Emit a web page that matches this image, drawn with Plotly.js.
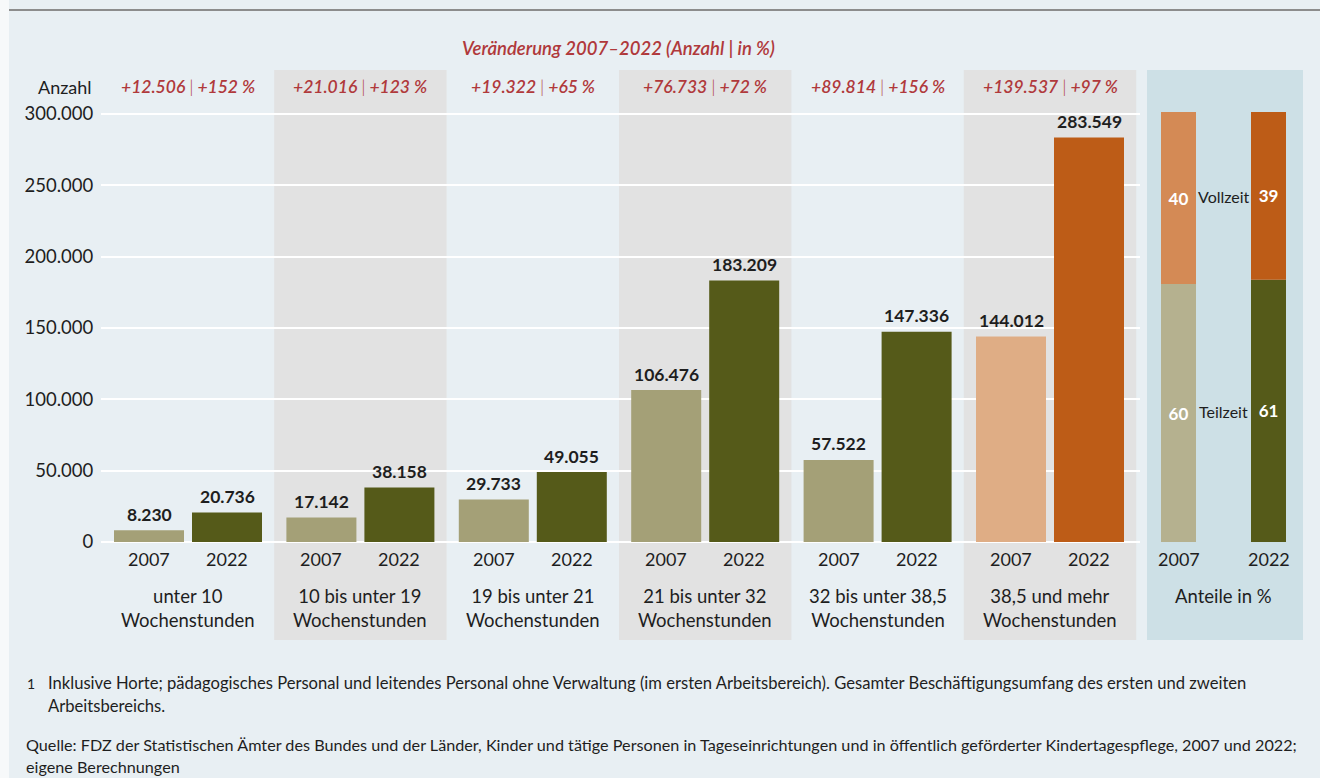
<!DOCTYPE html>
<html><head><meta charset="utf-8">
<script src="https://cdn.plot.ly/plotly-3.0.1.min.js"></script>
<style>html,body{margin:0;padding:0;background:#e8eff3;}#chart{width:1320px;height:778px;}</style>
</head><body><div id="chart"></div>
<script>
// ---- data ----
const groupLabels = ['unter 10<br>Wochenstunden','10 bis unter 19<br>Wochenstunden','19 bis unter 21<br>Wochenstunden','21 bis unter 32<br>Wochenstunden','32 bis unter 38,5<br>Wochenstunden','38,5 und mehr<br>Wochenstunden'];
const years = ['2007','2022'];
const values2007 = [8230, 17142, 29733, 106476, 57522, 144012];
const values2022 = [20736, 38158, 49055, 183209, 147336, 283549];
const changeAbs = ['+12.506','+21.016','+19.322','+76.733','+89.814','+139.537'];
const changePct = ['+152 %','+123 %','+65 %','+72 %','+156 %','+97 %'];
const shareLabels = ['Teilzeit','Vollzeit'];
const teilzeit = [60, 61];
const vollzeit = [40, 39];
const yTicks = [0, 50000, 100000, 150000, 200000, 250000, 300000];

// ---- layout geometry ----
const W = 1320, H = 778, L = 101, T = 70, B = 640;
const PW = W - L, PH = B - T;
const px = p => (p - L) / PW;
const py = p => (B - p) / PH;
const y0px = 542, yTopPx = 114, yTopVal = 300000;
const k = (y0px - yTopPx) / yTopVal;
const yRange = [-(B - y0px) / k, yTopVal + (yTopPx - T) / k];
const gSp = 172.4, c0 = 188;
const xRange = [(L - c0) / gSp, (1140 - c0) / gSp];
const off = 39 / gSp, bw = 70 / gSp;
const k2 = (y0px - 112) / 100;
const y2Range = [-(B - y0px) / k2, 100 + (112 - T) / k2];
const p0 = 1178.5, pSp = 90;
const x2Range = [(1147 - p0) / pSp, (1303 - p0) / pSp];

const FONT = 'Lato, "Source Sans Pro", sans-serif';
const TXT = '#1e1e1e';
const RED = '#b0393b';
const fmt = n => String(n).replace(/\B(?=(\d{3})+(?!\d))/g, '.');

const lightCol = values2007.map((_, i) => i === 5 ? '#dfad85' : '#a4a077');
const darkCol = values2022.map((_, i) => i === 5 ? '#bd5c17' : '#555a19');

const traces = [
  {type:'bar', x: values2007.map((_, i) => i - off), y: values2007, width: bw,
   marker:{color: lightCol}, hoverinfo:'skip'},
  {type:'bar', x: values2022.map((_, i) => i + off), y: values2022, width: bw,
   marker:{color: darkCol}, hoverinfo:'skip'},
  {type:'bar', x:[0,1], y: teilzeit, width: 35/pSp, xaxis:'x2', yaxis:'y2',
   marker:{color:['#b5b18f','#555a19']}, text: teilzeit.map(String), textposition:'inside',
   insidetextanchor:'middle', textfont:{family:FONT, size:17, color:'#ffffff', weight:700}, hoverinfo:'skip'},
  {type:'bar', x:[0,1], y: vollzeit, base: teilzeit, width: 35/pSp, xaxis:'x2', yaxis:'y2',
   marker:{color:['#d48a55','#bd5c17']}, text: vollzeit.map(String), textposition:'inside',
   insidetextanchor:'middle', textfont:{family:FONT, size:17, color:'#ffffff', weight:700}, hoverinfo:'skip'}
];

const shapes = [
  {type:'rect', xref:'paper', yref:'paper', x0: px(0), x1: px(9), y0: py(H), y1: py(0), fillcolor:'#f7f9fa', line:{width:0}, layer:'below'},
  {type:'line', xref:'paper', yref:'paper', x0: px(9), x1: px(W), y0: py(10), y1: py(10), line:{color:'#8c8c8c', width:2}},
  {type:'rect', xref:'x2 domain', yref:'paper', x0:0, x1:1, y0:0, y1:1, fillcolor:'#cde0e6', line:{width:0}, layer:'below'}
];
[1,3,5].forEach(i => shapes.push({type:'rect', xref:'x', yref:'paper', x0:i-0.5, x1:i+0.5, y0:0, y1:1,
  fillcolor:'#e2e2e2', line:{width:0}, layer:'below'}));

const ann = [];
const A = o => ann.push(Object.assign({showarrow:false, yanchor:'middle', xanchor:'center'}, o));
A({xref:'paper', yref:'paper', x: px(618), y: py(48), text:'Veränderung 2007–2022 (Anzahl | in %)',
  font:{family:FONT, size:18.5, color:RED, style:'italic', weight:600}});
A({xref:'paper', yref:'paper', x: px(94), y: py(87), xanchor:'right', text:'Anzahl',
  font:{family:FONT, size:18, color:TXT}});
groupLabels.forEach((g, i) => {
  A({xref:'x', yref:'paper', x:i, y: py(87), text: changeAbs[i] + ' <span style="font-weight:300">|</span> ' + changePct[i],
    font:{family:FONT, size:17.5, color:RED, style:'italic', weight:600}});
  A({xref:'x', yref:'y', x:i - off, y:values2007[i], yshift:16, text:fmt(values2007[i]), font:{family:FONT, size:17.5, color:TXT, weight:700}});
  A({xref:'x', yref:'y', x:i + off, y:values2022[i], yshift:16, text:fmt(values2022[i]), font:{family:FONT, size:17.5, color:TXT, weight:700}});
  A({xref:'x', yref:'y', x:i - off, y:0, yshift:-17, text:years[0], font:{family:FONT, size:18, color:TXT}});
  A({xref:'x', yref:'y', x:i + off, y:0, yshift:-17, text:years[1], font:{family:FONT, size:18, color:TXT}});
  A({xref:'x', yref:'y', x:i, y:0, yshift:-66, text:g, font:{family:FONT, size:18.5, color:TXT}});
});
years.forEach((yr, j) => A({xref:'x2', yref:'y2', x:j, y:0, yshift:-17, text:yr, font:{family:FONT, size:18, color:TXT}}));
A({xref:'x2', yref:'y2', x:0.5, y:0, yshift:-54, text:'Anteile in %', font:{family:FONT, size:18.5, color:TXT}});
const midT = (teilzeit[0] / 2 + teilzeit[1] / 2) / 2;
const midV = ((teilzeit[0] + vollzeit[0] / 2) + (teilzeit[1] + vollzeit[1] / 2)) / 2;
A({xref:'x2', yref:'y2', x:0.5, y:midT, text:shareLabels[0], font:{family:FONT, size:16, color:TXT}});
A({xref:'x2', yref:'y2', x:0.5, y:midV, text:shareLabels[1], font:{family:FONT, size:16, color:TXT}});

const FN1 = {family:FONT, size:16.6, color:TXT};
const FN2 = {family:FONT, size:16.2, color:TXT};
A({xref:'paper', yref:'paper', x: px(25), y: py(683), xanchor:'left', text:'1', font:{family:FONT, size:14, color:TXT}});
A({xref:'paper', yref:'paper', x: px(46), y: py(683), xanchor:'left', text:'Inklusive Horte; pädagogisches Personal und leitendes Personal ohne Verwaltung (im ersten Arbeitsbereich). Gesamter Beschäftigungsumfang des ersten und zweiten', font:FN1});
A({xref:'paper', yref:'paper', x: px(46), y: py(706), xanchor:'left', text:'Arbeitsbereichs.', font:FN1});
A({xref:'paper', yref:'paper', x: px(24), y: py(744), xanchor:'left', text:'Quelle: FDZ der Statistischen Ämter des Bundes und der Länder, Kinder und tätige Personen in Tageseinrichtungen und in öffentlich geförderter Kindertagespflege, 2007 und 2022;', font:FN2});
A({xref:'paper', yref:'paper', x: px(24), y: py(766), xanchor:'left', text:'eigene Berechnungen', font:FN2});

const layout = {
  width: W, height: H,
  margin:{l:L, r:0, t:T, b:H - B, pad:0},
  paper_bgcolor:'#e8eff3', plot_bgcolor:'rgba(0,0,0,0)',
  barmode:'overlay', showlegend:false,
  font:{family:FONT, color:TXT},
  xaxis:{domain:[0, (1140 - L) / PW], range:xRange, visible:false, fixedrange:true},
  yaxis:{range:yRange, tickvals:yTicks, ticktext:yTicks.map(fmt), showgrid:true, gridcolor:'#ffffff', gridwidth:2,
    zeroline:false, showline:false, ticks:'outside', ticklen:3, tickcolor:'rgba(0,0,0,0)',
    tickfont:{family:FONT, size:18.5, color:TXT}, fixedrange:true},
  xaxis2:{domain:[px(1147), px(1303)], range:x2Range, visible:false, anchor:'y2', fixedrange:true},
  yaxis2:{range:y2Range, visible:false, anchor:'x2', fixedrange:true},
  shapes: shapes, annotations: ann
};
Plotly.newPlot('chart', traces, layout, {staticPlot:true, displayModeBar:false});
</script></body></html>
